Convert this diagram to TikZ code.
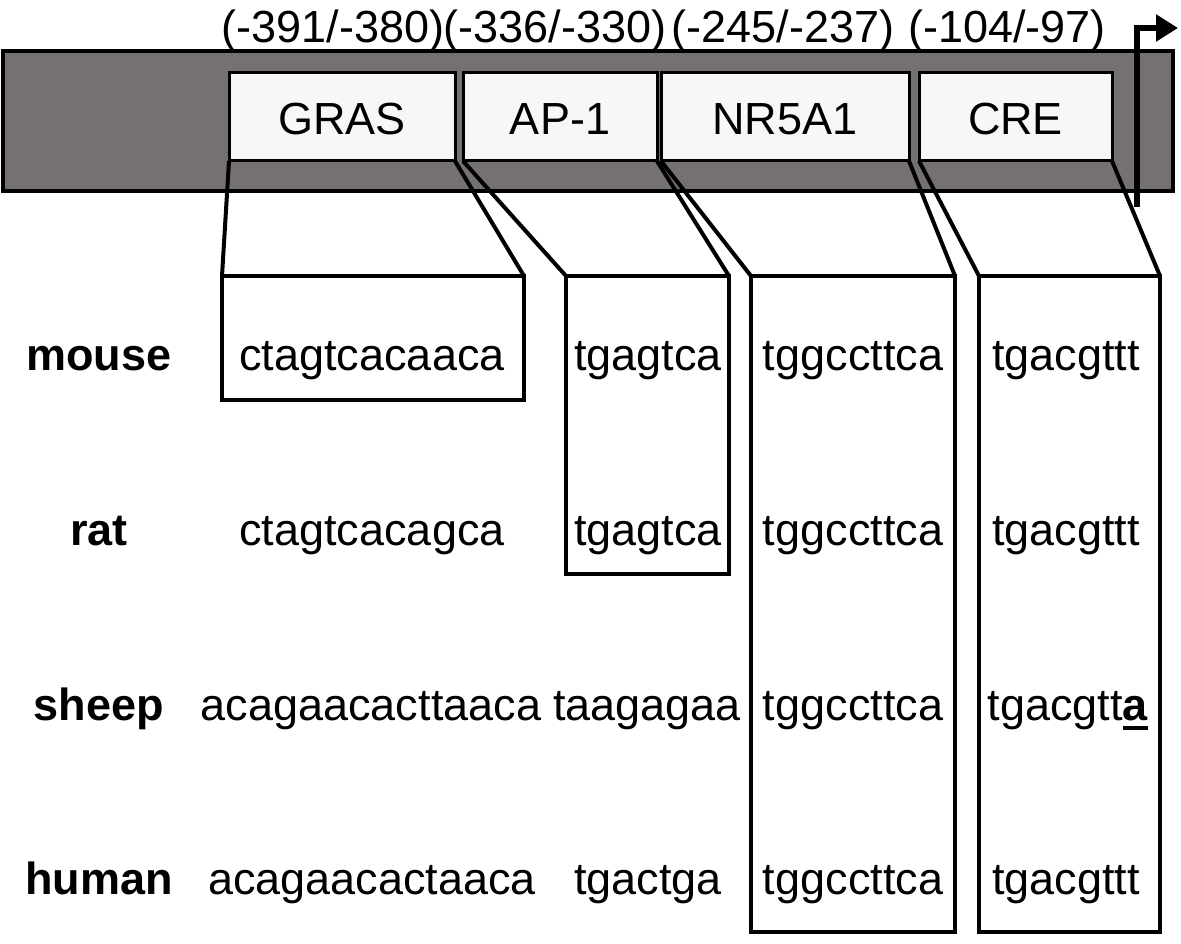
\documentclass[tikz,border=0pt]{standalone}
\usepackage{fontspec}
\setmainfont{Liberation Sans}
\usetikzlibrary{arrows.meta}
\definecolor{bargray}{RGB}{118,113,113}
\definecolor{boxfill}{RGB}{247,247,247}
\newcommand\thickul[1]{\leavevmode\setbox0\hbox{#1}\rlap{\rule[-10pt]{\wd0}{4.5pt}}\box0}
\begin{document}
\begin{tikzpicture}[x=1pt,y=-1pt,
  txt/.style={font=\fontsize{45}{54}\selectfont, anchor=base, inner sep=0pt},
  spec/.style={font=\fontsize{45}{54}\bfseries\selectfont, anchor=base, inner sep=0pt},
  sitebox/.style={draw=black, line width=3pt, fill=boxfill, rectangle, inner sep=0pt, outer sep=0pt, minimum height=88pt, font=\fontsize{45}{54}\selectfont},
  seqbox/.style={draw=black, line width=4pt, rectangle, inner sep=0pt, outer sep=0pt},
  link/.style={draw=black, line width=4pt, line join=miter},
  tssarrow/.style={draw=black, line width=5.5pt, -{Triangle[length=22pt,width=26pt]}}
]
\useasboundingbox (0,0) rectangle (1181,944);
% promoter bar
\node[draw=black, line width=4pt, fill=bargray, rectangle, inner sep=0pt, outer sep=0pt,
  minimum width=1170pt, minimum height=140pt] (bar) at (588,121) {};
% site boxes
\node[sitebox, minimum width=226pt] (gras) at (342,117) {};
\node[sitebox, minimum width=194pt] (ap1) at (560,117) {};
\node[sitebox, minimum width=248pt] (nr) at (785,117) {};
\node[sitebox, minimum width=193pt] (cre) at (1015.5,117) {};
\node[txt] (tgras) at (342,135) {GRAS};
\node[txt] (tap1) at (560,135) {AP-1};
\node[txt] (tnr) at (785,135) {NR5A1};
\node[txt] (tcre) at (1015.5,135) {CRE};
% position labels
\node[txt] (p1) at (333,43) {(-391/-380)};
\node[txt] (p2) at (555,43) {(-336/-330)};
\node[txt] (p3) at (783,43) {(-245/-237)};
\node[txt] (p4) at (1007,43) {(-104/-97)};
% transcription start arrow
\coordinate (tss0) at (1137,207);
\coordinate (tss1) at (1137,28);
\coordinate (tss2) at (1178,28);
\draw[tssarrow] (tss0) -- (tss1) -- (tss2);
% sequence boxes
\node[seqbox, minimum width=302pt, minimum height=124pt] (bgras) at (373,338) {};
\node[seqbox, minimum width=163pt, minimum height=298pt] (bap1) at (647.5,425) {};
\node[seqbox, minimum width=204pt, minimum height=656pt] (bnr) at (853,604) {};
\node[seqbox, minimum width=181pt, minimum height=656pt] (bcre) at (1069.5,604) {};
% connectors
\draw[link] (gras.south west) -- (bgras.north west);
\draw[link] (gras.south east) -- (bgras.north east);
\draw[link] (ap1.south west) -- (bap1.north west);
\draw[link] (ap1.south east) -- (bap1.north east);
\draw[link] (nr.south west) -- (bnr.north west);
\draw[link] (nr.south east) -- (bnr.north east);
\draw[link] (cre.south west) -- (bcre.north west);
\draw[link] (cre.south east) -- (bcre.north east);
% species labels
\node[spec] (mouse) at (99,370) {mouse};
\node[spec] (rat) at (99,545) {rat};
\node[spec] (sheep) at (99,720) {sheep};
\node[spec] (human) at (99,894) {human};
% sequences
\node[txt] (m1) at (372,370) {ctagtcacaaca};
\node[txt] (m2) at (648,370) {tgagtca};
\node[txt] (m3) at (853,370) {tggccttca};
\node[txt] (m4) at (1066,370) {tgacgttt};
\node[txt] (r1) at (372,545) {ctagtcacagca};
\node[txt] (r2) at (648,545) {tgagtca};
\node[txt] (r3) at (853,545) {tggccttca};
\node[txt] (r4) at (1066,545) {tgacgttt};
\node[txt] (s1) at (371,720) {acagaacacttaaca};
\node[txt] (s2) at (647,720) {taagagaa};
\node[txt] (s3) at (853,720) {tggccttca};
\node[txt] (s4) at (1068,720) {tgacgtt\thickul{\textbf{a}}};
\node[txt] (h1) at (372,894) {acagaacactaaca};
\node[txt] (h2) at (648,894) {tgactga};
\node[txt] (h3) at (853,894) {tggccttca};
\node[txt] (h4) at (1066,894) {tgacgttt};
\end{tikzpicture}
\end{document}
